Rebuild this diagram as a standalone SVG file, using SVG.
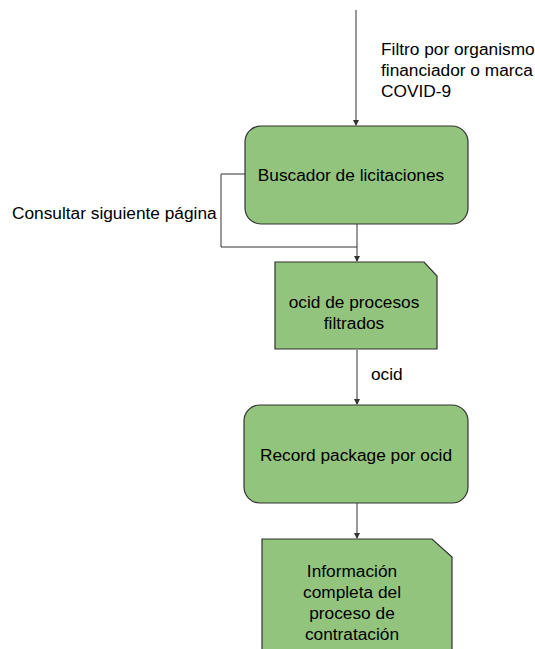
<svg xmlns="http://www.w3.org/2000/svg" width="535" height="649" viewBox="0 0 535 649">
<defs>
<style>
.n{fill:#93c47d;stroke:#333;stroke-width:1.2}
.t{font-family:"Liberation Sans",Arial,sans-serif;font-size:17.3px;fill:#000}
.c{fill:none;stroke:#333;stroke-width:1}
</style>
<marker id="a" markerWidth="6" markerHeight="6" refX="5" refY="3" orient="auto" markerUnits="userSpaceOnUse">
<path d="M0,0 L6,3 L0,6 z" fill="#333"/>
</marker>
</defs>
<rect width="535" height="649" fill="#fff"/>
<g id="connectors">
<path class="c" d="M356,10 V125" marker-end="url(#a)"/>
<path class="c" d="M357,224 V261" marker-end="url(#a)"/>
<path class="c" d="M245,174 H221 V247 H357"/>
<path class="c" d="M357,350 V404" marker-end="url(#a)"/>
<path class="c" d="M357,503 V538" marker-end="url(#a)"/>
<text class="t" x="381" y="55">Filtro por organismo</text>
<text class="t" x="381" y="76">financiador o marca</text>
<text class="t" x="381" y="97">COVID-9</text>
<text class="t" x="12" y="219">Consultar siguiente página</text>
<text class="t" x="371" y="380">ocid</text>
</g>
<g id="buscador">
<rect class="n" x="245" y="126" width="223" height="98" rx="16"/>
<text class="t" x="351" y="181" text-anchor="middle">Buscador de licitaciones</text>
</g>
<g id="ocid-doc">
<path class="n" d="M275,262 H424 L437,276 V349 H275 Z"/>
<text class="t" x="354" y="308" text-anchor="middle">ocid de procesos</text>
<text class="t" x="354" y="329" text-anchor="middle">filtrados</text>
</g>
<g id="record">
<rect class="n" x="244" y="405" width="224" height="98" rx="16"/>
<text class="t" x="356" y="461" text-anchor="middle">Record package por ocid</text>
</g>
<g id="info-doc">
<path class="n" d="M262,539 H432 L452,557 V660 H262 Z"/>
<text class="t" x="352" y="577" text-anchor="middle">Información</text>
<text class="t" x="352" y="598" text-anchor="middle">completa del</text>
<text class="t" x="352" y="619" text-anchor="middle">proceso de</text>
<text class="t" x="352" y="640" text-anchor="middle">contratación</text>
</g>
</svg>
